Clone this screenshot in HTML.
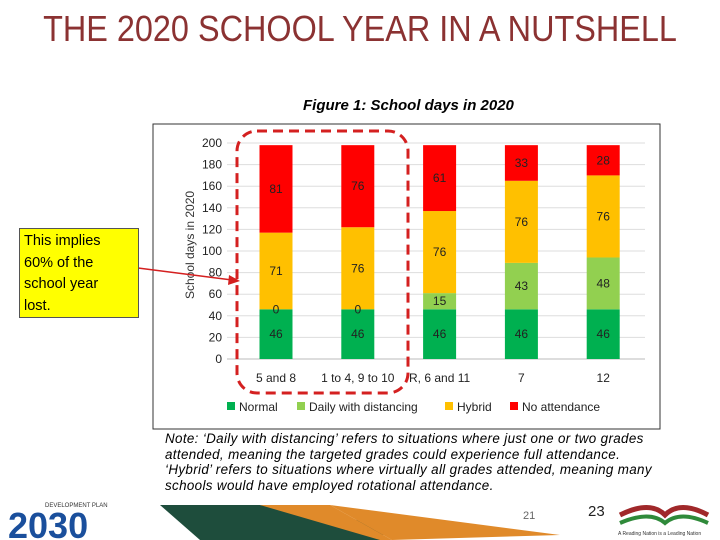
<!DOCTYPE html>
<html><head><meta charset="utf-8"><style>
body{margin:0;width:720px;height:540px;background:#fff;position:relative;overflow:hidden;font-family:"Liberation Sans",sans-serif}
.abs{position:absolute}
</style></head><body>
<div class="abs" style="left:0;top:8px;width:720px;text-align:center;font-size:36px;color:#8b3232;white-space:nowrap;transform:scaleX(0.9);transform-origin:360px 0">THE 2020 SCHOOL YEAR IN A NUTSHELL</div>
<div class="abs" style="left:303px;top:97px;font-size:15px;font-weight:bold;font-style:italic">Figure 1: School days in 2020</div>
<svg class="abs" style="left:0;top:0" width="720" height="540">
<rect x="153" y="124" width="507" height="305" fill="#fff" stroke="#333" stroke-width="1"/>
<g id="grid"></g><g id="bars"></g><g id="labels"></g>
<text transform="translate(194,245) rotate(-90)" text-anchor="middle" font-size="12" fill="#333">School days in 2020</text>
<g id="legend" fill="#333"></g>
<rect x="237" y="131" width="171" height="262" rx="20" fill="none" stroke="#d42020" stroke-width="3" stroke-dasharray="10,6"/>
<line x1="138" y1="268" x2="232" y2="280" stroke="#d42020" stroke-width="1.5"/>
<polygon points="240,281 229,275 228,285" fill="#d42020"/>
</svg>
<div class="abs" style="left:19px;top:228px;width:110px;height:84px;background:#ffff00;border:1px solid #555;padding:2px 4px;font-size:14.5px;line-height:21.5px">This implies<br>60% of the<br>school year<br>lost.</div>
<div class="abs" style="left:165px;top:431px;font-size:13.4px;letter-spacing:0.35px;font-style:italic;line-height:15.5px;white-space:nowrap">Note: ‘Daily with distancing’ refers to situations where just one or two grades<br>attended, meaning the targeted grades could experience full attendance.<br>‘Hybrid’ refers to situations where virtually all grades attended, meaning many<br>schools would have employed rotational attendance.</div>
<svg class="abs" style="left:0;top:495px" width="720" height="45">
<polygon points="160,10 260,10 390,30 380,45 200,45" fill="#1e4d3c"/>
<polygon points="260,10 330,10 392,45 380,45" fill="#e08a2a"/>
<polygon points="330,10 560,40 392,45" fill="#e08a2a"/>
<text x="8" y="43" font-size="36" font-weight="bold" fill="#1a4f9c">2030</text>
<text x="45" y="12" font-size="6" fill="#333">DEVELOPMENT PLAN</text>
<text x="523" y="24" font-size="11" fill="#666">21</text>
<text x="588" y="21" font-size="15" fill="#222">23</text>
<path d="M620 20 Q650 5 665 20 Q680 5 708 20" stroke="#a0282a" stroke-width="5" fill="none"/>
<path d="M620 28 Q650 15 665 28 Q680 15 708 28" stroke="#2f8a3a" stroke-width="4" fill="none"/>
<text x="618" y="40" font-size="5" fill="#333">A Reading Nation is a Leading Nation</text>
</svg>
<script>
const categories=["5 and 8","1 to 4, 9 to 10","R, 6 and 11","7","12"];
const normal=[46,46,46,46,46];
const daily=[0,0,15,43,48];
const hybrid=[71,76,76,76,76];
const noAtt=[81,76,61,33,28];
const yTicks=[0,20,40,60,80,100,120,140,160,180,200];
const seriesNames=["Normal","Daily with distancing","Hybrid","No attendance"];
const colors=["#00b050","#92d050","#ffc000","#ff0000"];
const NS="http://www.w3.org/2000/svg";
const y=v=>359-v*1.08;
const xc=i=>276+i*81.8;
function mk(t,a,p){const e=document.createElementNS(NS,t);for(const k in a)e.setAttribute(k,a[k]);p.appendChild(e);return e;}
const grid=document.getElementById('grid'),bars=document.getElementById('bars'),labels=document.getElementById('labels'),legend=document.getElementById('legend');
yTicks.forEach(t=>{
 const l=mk('line',{x1:227,x2:645,y1:y(t),y2:y(t),stroke:t?'#ddd':'#bbb'},grid);
 
 
 const tx=mk('text',{x:222,y:y(t)+4,'text-anchor':'end','font-size':12,fill:'#222'},grid);tx.textContent=t;
 
 
});
const series=[normal,daily,hybrid,noAtt];
categories.forEach((c,i)=>{
 let base=0;
 series.forEach((s,k)=>{
  const v=s[i];
  const r=mk('rect',{x:xc(i)-16.5,y:y(base+v),width:33,height:v*1.08,fill:colors[k]},bars);
  
  
  const t=mk('text',{x:xc(i),y:y(base+v/2)+4,'text-anchor':'middle','font-size':12,fill:'#222'},labels);
  t.textContent=v;
  
  
  base+=v;
 });
 const ct=mk('text',{x:xc(i),y:382,'text-anchor':'middle','font-size':12,fill:'#222'},labels);
 ct.textContent=c;
 
 
});
const lx=[227,297,445,510];
seriesNames.forEach((n,k)=>{
 const r=mk('rect',{x:lx[k],y:402,width:8,height:8,fill:colors[k]},legend);
 
 
 const t=mk('text',{x:lx[k]+12,y:411,'font-size':12,fill:'#222'},legend);t.textContent=n;
 
 
});
</script>
</body></html>
